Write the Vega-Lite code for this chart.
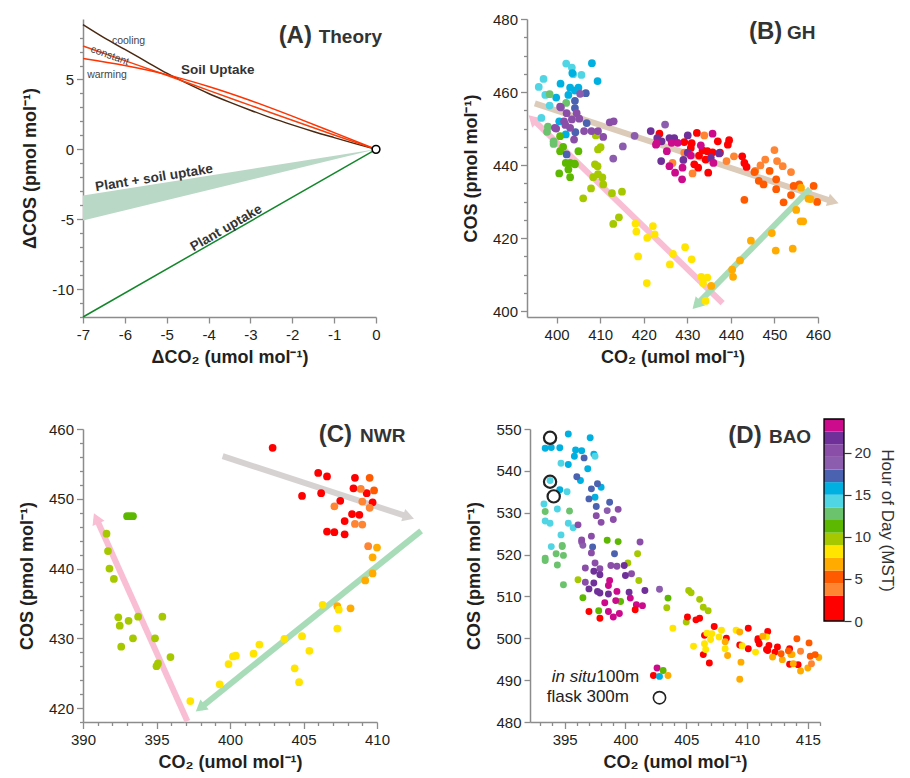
{
"$schema": "https://vega.github.io/schema/vega-lite/v6.json",
"background": "white",
"padding": {"left": 18, "top": 12, "right": 2, "bottom": 0},
"config": {
  "font": "Liberation Sans",
  "view": {"stroke": null},
  "axis": {"grid": false, "domainColor": "#8c8c8c", "domainWidth": 1.5, "tickColor": "#8c8c8c", "tickWidth": 1.3, "labelFont": "Liberation Sans", "labelFontSize": 15, "labelColor": "#231f20", "labelFlush": false, "labelOverlap": false, "labelPadding": 3, "titleFont": "Liberation Sans", "titleFontSize": 18, "titleFontWeight": "bold", "titleColor": "#231f20"},
  "axisX": {"titlePadding": 6, "labelPadding": 4},
  "axisY": {"titlePadding": 12}
},
"datasets": {
  "curves": [
    {"x":-7,"y":8.93,"c":"cooling"},{"x":-6.5,"y":8.0,"c":"cooling"},{"x":-6,"y":7.15,"c":"cooling"},{"x":-5.5,"y":6.3,"c":"cooling"},{"x":-5,"y":5.45,"c":"cooling"},{"x":-4.5,"y":4.7,"c":"cooling"},{"x":-4,"y":4.0,"c":"cooling"},{"x":-3.5,"y":3.38,"c":"cooling"},{"x":-3,"y":2.8,"c":"cooling"},{"x":-2.5,"y":2.25,"c":"cooling"},{"x":-2,"y":1.75,"c":"cooling"},{"x":-1.5,"y":1.28,"c":"cooling"},{"x":-1,"y":0.84,"c":"cooling"},{"x":-0.5,"y":0.41,"c":"cooling"},{"x":0,"y":0,"c":"cooling"},
    {"x":-7,"y":7.4,"c":"constant"},{"x":-6,"y":6.35,"c":"constant"},{"x":-5,"y":5.3,"c":"constant"},{"x":-4,"y":4.22,"c":"constant"},{"x":-3,"y":3.15,"c":"constant"},{"x":-2,"y":2.08,"c":"constant"},{"x":-1,"y":1.03,"c":"constant"},{"x":0,"y":0,"c":"constant"},
    {"x":-7,"y":6.5,"c":"warming"},{"x":-6,"y":6.0,"c":"warming"},{"x":-5,"y":5.35,"c":"warming"},{"x":-4,"y":4.5,"c":"warming"},{"x":-3,"y":3.5,"c":"warming"},{"x":-2,"y":2.38,"c":"warming"},{"x":-1,"y":1.2,"c":"warming"},{"x":0,"y":0,"c":"warming"}
  ],
  "B": [
    {"x":402.2,"y":467.8,"h":14},{"x":403.5,"y":466.7,"h":14},{"x":405.7,"y":464.7,"h":14},{"x":403.8,"y":464.9,"h":14},{"x":397.0,"y":463.6,"h":14},{"x":395.9,"y":461.4,"h":14},{"x":397.4,"y":459.2,"h":14},{"x":398.4,"y":456.3,"h":14},{"x":396.5,"y":452.9,"h":14},
    {"x":408.1,"y":467.9,"h":16},{"x":409.4,"y":463.0,"h":16},{"x":400.9,"y":462.3,"h":16},{"x":403.1,"y":461.2,"h":16},{"x":405.0,"y":461.2,"h":16},{"x":402.7,"y":459.2,"h":16},{"x":399.9,"y":458.5,"h":16},{"x":400.6,"y":452.0,"h":16},{"x":402.1,"y":448.4,"h":16},{"x":404.2,"y":460.4,"h":16},{"x":403.6,"y":465.2,"h":16},
    {"x":398.4,"y":459.4,"h":13},{"x":402.2,"y":457.0,"h":13},{"x":397.8,"y":449.1,"h":13},{"x":399.3,"y":446.5,"h":13},{"x":399.3,"y":445.8,"h":13},{"x":398.0,"y":450.5,"h":13},
    {"x":400.8,"y":447.9,"h":11},{"x":405.0,"y":443.8,"h":11},{"x":400.8,"y":443.8,"h":11},{"x":403.1,"y":440.6,"h":11},{"x":404.2,"y":440.2,"h":11},{"x":402.1,"y":440.6,"h":11},{"x":404.1,"y":440.4,"h":11},{"x":402.7,"y":438.8,"h":11},{"x":400.6,"y":437.7,"h":11},{"x":403.1,"y":436.7,"h":11},{"x":401.5,"y":445.0,"h":11},
    {"x":409.5,"y":444.3,"h":10},{"x":410.1,"y":444.9,"h":10},{"x":408.8,"y":440.2,"h":10},{"x":409.4,"y":439.7,"h":10},{"x":409.5,"y":437.5,"h":10},{"x":408.4,"y":436.7,"h":10},{"x":410.5,"y":436.6,"h":10},{"x":410.7,"y":434.7,"h":10},{"x":407.9,"y":433.6,"h":10},{"x":406.1,"y":430.9,"h":10},{"x":412.7,"y":432.3,"h":10},{"x":415.0,"y":432.7,"h":10},{"x":414.3,"y":425.7,"h":10},{"x":413.0,"y":423.9,"h":10},{"x":409.0,"y":448.1,"h":10},
    {"x":406.7,"y":459.7,"h":17},{"x":404.2,"y":457.6,"h":17},{"x":404.2,"y":455.6,"h":17},{"x":406.9,"y":451.5,"h":17},{"x":402.3,"y":442.9,"h":17},{"x":404.3,"y":449.0,"h":17},
    {"x":405.4,"y":459.5,"h":19},{"x":401.0,"y":455.8,"h":19},{"x":413.0,"y":441.8,"h":19},{"x":415.2,"y":445.1,"h":19},{"x":417.9,"y":448.0,"h":19},{"x":424.9,"y":451.1,"h":19},
    {"x":400.8,"y":456.0,"h":20},{"x":402.3,"y":454.2,"h":20},{"x":404.6,"y":454.2,"h":20},{"x":405.2,"y":452.7,"h":20},{"x":401.7,"y":452.0,"h":20},{"x":403.1,"y":450.2,"h":20},{"x":399.9,"y":450.0,"h":20},{"x":406.3,"y":449.3,"h":20},{"x":408.0,"y":449.3,"h":20},{"x":409.5,"y":449.3,"h":20},{"x":410.7,"y":447.7,"h":20},{"x":412.2,"y":451.7,"h":20},{"x":413.1,"y":452.0,"h":20},{"x":404.0,"y":447.0,"h":20},{"x":399.6,"y":450.2,"h":20},{"x":403.5,"y":452.5,"h":20},{"x":402.0,"y":451.0,"h":20},
    {"x":418.1,"y":424.0,"h":8},{"x":422.1,"y":423.3,"h":8},{"x":418.3,"y":421.8,"h":8},{"x":420.8,"y":420.1,"h":8},{"x":422.5,"y":421.0,"h":8},{"x":418.7,"y":415.0,"h":8},{"x":426.7,"y":415.7,"h":8},{"x":429.5,"y":417.5,"h":8},{"x":431.0,"y":414.2,"h":8},{"x":426.0,"y":412.8,"h":8},{"x":420.7,"y":407.7,"h":8},{"x":433.2,"y":409.4,"h":8},{"x":434.6,"y":409.2,"h":8},{"x":433.6,"y":407.7,"h":8},{"x":434.2,"y":402.8,"h":8},
    {"x":435.5,"y":406.9,"h":7},{"x":455.0,"y":427.7,"h":7},{"x":456.0,"y":424.6,"h":7},{"x":456.6,"y":424.6,"h":7},{"x":449.4,"y":421.4,"h":7},{"x":444.6,"y":419.3,"h":7},{"x":450.3,"y":416.6,"h":7},{"x":454.2,"y":417.1,"h":7},{"x":442.1,"y":413.9,"h":7},{"x":440.3,"y":411.4,"h":7},{"x":440.5,"y":409.4,"h":7},
    {"x":423.6,"y":448.6,"h":1},{"x":432.2,"y":448.8,"h":1},{"x":437.0,"y":446.5,"h":1},{"x":439.6,"y":446.8,"h":1},{"x":439.3,"y":445.6,"h":1},{"x":429.3,"y":446.3,"h":1},{"x":430.8,"y":444.7,"h":1},{"x":434.6,"y":443.8,"h":1},{"x":435.8,"y":443.5,"h":1},{"x":437.5,"y":443.4,"h":1},{"x":432.7,"y":442.6,"h":1},{"x":434.2,"y":441.5,"h":1},{"x":431.6,"y":440.2,"h":1},{"x":432.5,"y":439.3,"h":1},{"x":434.8,"y":437.9,"h":1},{"x":442.6,"y":442.4,"h":1},{"x":443.1,"y":440.6,"h":1},{"x":443.6,"y":439.5,"h":1},{"x":431.0,"y":446.0,"h":1},{"x":433.5,"y":444.0,"h":1},
    {"x":433.9,"y":448.1,"h":4},{"x":429.3,"y":443.4,"h":4},{"x":426.6,"y":440.6,"h":4},{"x":431.2,"y":437.7,"h":4},{"x":439.0,"y":441.1,"h":4},{"x":440.7,"y":442.4,"h":4},{"x":445.6,"y":438.4,"h":4},{"x":446.8,"y":439.9,"h":4},{"x":447.9,"y":441.5,"h":4},{"x":450.0,"y":444.1,"h":4},{"x":450.6,"y":441.1,"h":4},{"x":451.9,"y":439.7,"h":4},{"x":453.8,"y":438.1,"h":4},
    {"x":445.4,"y":438.1,"h":5},{"x":448.9,"y":438.4,"h":5},{"x":446.4,"y":435.7,"h":5},{"x":447.5,"y":434.7,"h":5},{"x":450.4,"y":436.1,"h":5},{"x":450.4,"y":433.4,"h":5},{"x":454.4,"y":434.3,"h":5},{"x":455.7,"y":434.7,"h":5},{"x":453.8,"y":431.8,"h":5},{"x":459.0,"y":434.3,"h":5},{"x":459.8,"y":429.9,"h":5},{"x":443.1,"y":430.5,"h":5},{"x":452.1,"y":429.8,"h":5},
    {"x":456.1,"y":433.8,"h":7},{"x":457.8,"y":430.8,"h":7},{"x":458.3,"y":430.7,"h":7},
    {"x":421.6,"y":449.3,"h":22},{"x":423.1,"y":447.4,"h":22},{"x":424.1,"y":446.5,"h":22},{"x":425.9,"y":447.4,"h":22},{"x":427.0,"y":447.4,"h":22},{"x":430.1,"y":448.1,"h":22},{"x":430.1,"y":443.4,"h":22},{"x":437.3,"y":443.2,"h":22},{"x":435.4,"y":442.0,"h":22},{"x":424.0,"y":441.1,"h":22},{"x":429.1,"y":441.4,"h":22},
    {"x":422.8,"y":445.6,"h":23},{"x":425.3,"y":443.8,"h":23},{"x":426.4,"y":446.1,"h":23},{"x":427.8,"y":446.1,"h":23},{"x":435.8,"y":448.6,"h":23},{"x":433.1,"y":445.4,"h":23},{"x":430.8,"y":442.6,"h":23},{"x":436.0,"y":440.6,"h":23},{"x":425.9,"y":439.7,"h":23},{"x":428.9,"y":439.3,"h":23},{"x":427.2,"y":437.9,"h":23},{"x":428.8,"y":436.1,"h":23},{"x":423.0,"y":446.0,"h":23}
  ],
  "C": [
    {"x":402.9,"y":457.3,"h":1},{"x":406.0,"y":453.7,"h":1},{"x":406.6,"y":453.2,"h":1},{"x":404.9,"y":450.4,"h":1},{"x":406.2,"y":450.8,"h":1},{"x":407.5,"y":449.7,"h":1},{"x":408.5,"y":453.0,"h":1},{"x":408.4,"y":451.5,"h":1},{"x":409.3,"y":450.8,"h":1},{"x":409.7,"y":449.5,"h":1},{"x":408.3,"y":447.8,"h":1},{"x":408.8,"y":447.7,"h":1},{"x":407.8,"y":446.8,"h":1},{"x":406.6,"y":445.3,"h":1},{"x":407.1,"y":445.2,"h":1},{"x":407.8,"y":444.9,"h":1},
    {"x":407.1,"y":448.9,"h":4},{"x":408.9,"y":451.4,"h":4},{"x":409.0,"y":449.6,"h":4},{"x":409.5,"y":448.7,"h":4},{"x":408.5,"y":446.4,"h":4},{"x":409.0,"y":446.3,"h":4},{"x":409.4,"y":443.2,"h":4},
    {"x":409.5,"y":453.0,"h":5},{"x":409.8,"y":451.2,"h":5},
    {"x":410.0,"y":443.0,"h":7},{"x":409.7,"y":441.6,"h":7},{"x":409.7,"y":439.3,"h":7},{"x":409.2,"y":438.3,"h":7},{"x":407.3,"y":434.6,"h":7},{"x":408.2,"y":434.3,"h":7},
    {"x":406.3,"y":434.8,"h":8},{"x":407.4,"y":434.1,"h":8},{"x":407.3,"y":431.4,"h":8},{"x":403.7,"y":429.9,"h":8},{"x":404.9,"y":430.3,"h":8},{"x":405.4,"y":428.2,"h":8},{"x":404.4,"y":425.7,"h":8},{"x":404.7,"y":423.7,"h":8},{"x":402.0,"y":429.1,"h":8},{"x":401.6,"y":427.8,"h":8},{"x":400.2,"y":427.4,"h":8},{"x":400.4,"y":427.5,"h":8},{"x":399.9,"y":426.3,"h":8},{"x":399.3,"y":423.4,"h":8},{"x":397.3,"y":421.0,"h":8},
    {"x":393.0,"y":447.5,"h":11},{"x":393.2,"y":447.5,"h":11},{"x":393.4,"y":447.5,"h":11},
    {"x":391.6,"y":445.0,"h":10},{"x":391.7,"y":442.5,"h":10},{"x":391.8,"y":440.0,"h":10},{"x":392.1,"y":438.5,"h":10},{"x":392.4,"y":433.0,"h":10},{"x":392.5,"y":431.8,"h":10},{"x":393.1,"y":432.5,"h":10},{"x":393.75,"y":433.1,"h":10},{"x":395.4,"y":433.1,"h":10},{"x":393.4,"y":430.0,"h":10},{"x":392.6,"y":428.8,"h":10},{"x":394.9,"y":430.0,"h":10},{"x":395.1,"y":426.4,"h":10},{"x":395.0,"y":426.0,"h":10},{"x":395.95,"y":427.3,"h":10}
  ],
  "D": [
    {"x":395.3,"y":548.8,"h":16},{"x":397.1,"y":547.9,"h":16},{"x":393.4,"y":545.4,"h":16},{"x":393.9,"y":545.6,"h":16},{"x":394.6,"y":545.5,"h":16},{"x":395.9,"y":545.0,"h":16},{"x":396.4,"y":544.8,"h":16},{"x":395.8,"y":543.5,"h":16},{"x":397.4,"y":544.0,"h":16},{"x":395.3,"y":541.5,"h":16},{"x":396.9,"y":540.5,"h":16},{"x":396.3,"y":537.7,"h":16},{"x":394.6,"y":535.5,"h":16},{"x":398.0,"y":536.1,"h":16},{"x":397.5,"y":533.7,"h":16},
    {"x":397.5,"y":543.5,"h":14},{"x":394.7,"y":541.8,"h":14},{"x":393.8,"y":537.7,"h":14},{"x":395.2,"y":535.0,"h":14},{"x":393.3,"y":532.1,"h":14},{"x":394.4,"y":530.9,"h":14},{"x":393.4,"y":528.0,"h":14},{"x":393.8,"y":527.5,"h":14},{"x":395.3,"y":527.5,"h":14},{"x":395.7,"y":526.4,"h":14},{"x":394.7,"y":524.7,"h":14},{"x":393.9,"y":521.9,"h":14},
    {"x":396.6,"y":543.1,"h":17},{"x":396.0,"y":538.6,"h":17},{"x":397.7,"y":536.9,"h":17},{"x":397.2,"y":535.7,"h":17},{"x":397.0,"y":533.3,"h":17},{"x":398.7,"y":532.5,"h":17},{"x":397.6,"y":531.5,"h":17},{"x":397.3,"y":521.8,"h":17},{"x":399.1,"y":520.2,"h":17},
    {"x":393.4,"y":530.3,"h":13},{"x":395.4,"y":530.4,"h":13},{"x":394.8,"y":521.9,"h":13},{"x":393.4,"y":519.1,"h":13},{"x":394.3,"y":520.2,"h":13},{"x":393.4,"y":518.6,"h":13},{"x":394.4,"y":517.5,"h":13},{"x":394.9,"y":519.8,"h":13},{"x":394.9,"y":512.8,"h":13},{"x":394.8,"y":522.2,"h":13},
    {"x":398.5,"y":523.4,"h":11},{"x":399.4,"y":523.1,"h":11},{"x":396.5,"y":509.7,"h":11},{"x":399.6,"y":508.8,"h":11},{"x":397.8,"y":506.6,"h":11},{"x":403.5,"y":509.6,"h":11},
    {"x":401.0,"y":520.2,"h":10},{"x":400.2,"y":518.0,"h":10},{"x":396.1,"y":514.0,"h":10},{"x":401.1,"y":513.8,"h":10},{"x":403.4,"y":507.3,"h":10},{"x":405.2,"y":511.4,"h":10},{"x":405.4,"y":510.9,"h":10},{"x":406.1,"y":509.3,"h":10},{"x":406.4,"y":507.4,"h":10},{"x":406.8,"y":506.6,"h":10},{"x":405.0,"y":503.9,"h":10},
    {"x":398.5,"y":530.5,"h":19},{"x":396.5,"y":522.2,"h":19},{"x":396.4,"y":523.0,"h":19},{"x":402.8,"y":511.7,"h":19},
    {"x":399.4,"y":530.8,"h":20},{"x":397.6,"y":529.3,"h":20},{"x":398.0,"y":527.7,"h":20},{"x":399.0,"y":528.4,"h":20},{"x":396.1,"y":527.1,"h":20},{"x":401.2,"y":523.0,"h":20},{"x":396.4,"y":523.5,"h":20},{"x":397.2,"y":524.4,"h":20},{"x":397.2,"y":520.4,"h":20},{"x":396.7,"y":516.8,"h":20},{"x":397.5,"y":518.0,"h":20},{"x":397.9,"y":516.6,"h":20},{"x":398.8,"y":517.4,"h":20},{"x":399.3,"y":517.2,"h":20},{"x":400.5,"y":515.4,"h":20},{"x":396.7,"y":513.4,"h":20},
    {"x":397.4,"y":516.0,"h":22},{"x":397.9,"y":515.2,"h":22},{"x":399.9,"y":517.4,"h":22},{"x":400.0,"y":515.0,"h":22},{"x":397.4,"y":513.2,"h":22},{"x":397.0,"y":511.8,"h":22},{"x":397.7,"y":511.2,"h":22},{"x":397.9,"y":510.8,"h":22},{"x":398.6,"y":510.6,"h":22},{"x":400.3,"y":511.0,"h":22},{"x":401.6,"y":511.4,"h":22},
    {"x":398.7,"y":513.8,"h":23},{"x":398.6,"y":512.6,"h":23},{"x":399.3,"y":511.2,"h":23},{"x":399.2,"y":509.0,"h":23},{"x":398.3,"y":508.5,"h":23},{"x":400.4,"y":509.6,"h":23},{"x":400.9,"y":508.0,"h":23},{"x":401.4,"y":507.8,"h":23},{"x":398.6,"y":506.4,"h":23},{"x":399.0,"y":505.1,"h":23},{"x":399.5,"y":505.9,"h":23},
    {"x":397.0,"y":506.4,"h":1},{"x":397.9,"y":504.8,"h":1},{"x":400.8,"y":506.8,"h":1},{"x":405.1,"y":505.1,"h":1},{"x":405.8,"y":504.4,"h":1},{"x":406.1,"y":504.8,"h":1},{"x":407.3,"y":502.8,"h":1},{"x":406.5,"y":500.7,"h":1},{"x":408.3,"y":500.0,"h":1},{"x":406.4,"y":496.1,"h":1},{"x":406.9,"y":494.1,"h":1},{"x":410.1,"y":502.4,"h":1},{"x":410.1,"y":497.5,"h":1},{"x":410.9,"y":499.5,"h":1},{"x":411.7,"y":501.6,"h":1},{"x":411.8,"y":498.3,"h":1},{"x":411.7,"y":497.1,"h":1},{"x":412.5,"y":497.9,"h":1},{"x":413.5,"y":497.5,"h":1},{"x":410.9,"y":499.9,"h":1},{"x":411.0,"y":498.7,"h":1},{"x":412.3,"y":496.7,"h":1},{"x":409.4,"y":498.4,"h":1},{"x":413.5,"y":493.8,"h":1},{"x":414.2,"y":493.7,"h":1},{"x":411.6,"y":497.3,"h":1},
    {"x":403.9,"y":502.4,"h":8},{"x":406.7,"y":501.2,"h":8},{"x":407.1,"y":501.1,"h":8},{"x":407.9,"y":501.9,"h":8},{"x":407.7,"y":500.3,"h":8},{"x":407.0,"y":499.7,"h":8},{"x":406.5,"y":498.7,"h":8},{"x":406.6,"y":497.3,"h":8},{"x":405.6,"y":498.1,"h":8},{"x":409.1,"y":501.9,"h":8},{"x":409.6,"y":498.2,"h":8},{"x":410.7,"y":496.7,"h":8},{"x":411.6,"y":500.3,"h":8},{"x":408.2,"y":497.5,"h":8},
    {"x":408.2,"y":499.2,"h":7},{"x":408.4,"y":495.9,"h":7},{"x":409.4,"y":501.5,"h":7},{"x":411.3,"y":500.5,"h":7},{"x":413.7,"y":496.1,"h":7},{"x":412.1,"y":495.5,"h":7},{"x":413.6,"y":496.1,"h":7},{"x":412.9,"y":494.9,"h":7},{"x":415.9,"y":495.4,"h":7},{"x":413.8,"y":493.9,"h":7},{"x":414.4,"y":492.2,"h":7},{"x":415.0,"y":492.9,"h":7},{"x":409.5,"y":494.3,"h":7},{"x":409.4,"y":490.2,"h":7},
    {"x":414.1,"y":499.9,"h":5},{"x":415.1,"y":498.9,"h":5},{"x":412.8,"y":496.3,"h":5},{"x":413.4,"y":497.0,"h":5},{"x":415.2,"y":495.7,"h":5},{"x":415.6,"y":496.1,"h":5},
    {"x":414.4,"y":496.9,"h":4},{"x":415.3,"y":493.9,"h":4}
  ],
  "Dkey": [
    {"x":402.6,"y":492.9,"h":23},{"x":403.1,"y":492.3,"h":11},{"x":402.3,"y":491.1,"h":1},{"x":403.5,"y":491.1,"h":7},{"x":402.8,"y":490.9,"h":16}
  ],
  "flask": [
    {"x":393.8,"y":547.9},{"x":393.8,"y":537.4},{"x":394.1,"y":533.9}
  ],
  "bins": [
    {"h0":0,"h1":3,"h":1.5},{"h0":3,"h1":4.5,"h":3.75},{"h0":4.5,"h1":6,"h":5.25},{"h0":6,"h1":7.5,"h":6.75},{"h0":7.5,"h1":9,"h":8.25},{"h0":9,"h1":10.5,"h":9.75},{"h0":10.5,"h1":12,"h":11.25},{"h0":12,"h1":13.5,"h":12.75},{"h0":13.5,"h1":15,"h":14.25},{"h0":15,"h1":16.5,"h":15.75},{"h0":16.5,"h1":18,"h":17.25},{"h0":18,"h1":19.5,"h":18.75},{"h0":19.5,"h1":21,"h":20.25},{"h0":21,"h1":22.5,"h":21.75},{"h0":22.5,"h1":24,"h":23.25}
  ]
},
"spacing": 52,
"vconcat": [
 {"spacing": 78, "hconcat": [
  {
   "width": 293, "height": 298,
   "encoding": {
     "x": {"field": "x", "type": "quantitative", "scale": {"domain": [-7, 0], "nice": false, "zero": false}, "axis": {"title": "ΔCO₂ (umol mol⁻¹)", "values": [-7,-6,-5,-4,-3,-2,-1,0], "labelExpr": "toString(datum.value)", "tickSize": 6}},
     "y": {"field": "y", "type": "quantitative", "scale": {"domain": [-12, 9.33], "nice": false, "zero": false}, "axis": {"title": "ΔCOS (pmol mol⁻¹)", "values": [-12,-11,-10,-9,-8,-7,-6,-5,-4,-3,-2,-1,0,1,2,3,4,5,6,7,8], "labelExpr": "datum.value % 5 === 0 ? toString(datum.value) : ''", "tickSize": {"condition": {"test": "datum.value % 5 !== 0", "value": 3.5}, "value": 6.5}}}
   },
   "layer": [
     {"data": {"values": [{"x": -7, "y": -5.1, "y2": -3.3}, {"x": 0, "y": 0, "y2": 0}]}, "mark": {"type": "area", "color": "#b9d8c6", "opacity": 1}, "encoding": {"y2": {"field": "y2"}}},
     {"data": {"values": [{"x": -7, "y": -12}, {"x": 0, "y": 0}]}, "mark": {"type": "line", "color": "#12872a", "strokeWidth": 1.5}},
     {"data": {"name": "curves"}, "transform": [{"filter": "datum.c === 'cooling'"}], "mark": {"type": "line", "color": "#4a2810", "strokeWidth": 1.5, "interpolate": "monotone"}},
     {"data": {"name": "curves"}, "transform": [{"filter": "datum.c === 'constant'"}], "mark": {"type": "line", "color": "#f2410f", "strokeWidth": 1.5, "interpolate": "monotone"}},
     {"data": {"name": "curves"}, "transform": [{"filter": "datum.c === 'warming'"}], "mark": {"type": "line", "color": "#ff3300", "strokeWidth": 1.5, "interpolate": "monotone"}},
     {"data": {"values": [{"x": 0, "y": 0}]}, "mark": {"type": "point", "shape": "circle", "filled": true, "fill": "white", "stroke": "black", "strokeWidth": 1.6, "size": 60, "opacity": 1}},
     {"data": {"values": [{"x": -6.31, "y": 7.75, "t": "cooling"}]}, "mark": {"type": "text", "align": "left", "baseline": "middle", "fontSize": 10.5, "color": "#444"}, "encoding": {"text": {"field": "t"}}},
     {"data": {"values": [{"x": -6.36, "y": 6.7, "t": "constant"}]}, "mark": {"type": "text", "align": "center", "baseline": "middle", "fontSize": 10.5, "color": "#444", "angle": 20}, "encoding": {"text": {"field": "t"}}},
     {"data": {"values": [{"x": -6.9, "y": 5.32, "t": "warming"}]}, "mark": {"type": "text", "align": "left", "baseline": "middle", "fontSize": 10.5, "color": "#444"}, "encoding": {"text": {"field": "t"}}},
     {"data": {"values": [{"x": -4.66, "y": 5.68, "t": "Soil Uptake"}]}, "mark": {"type": "text", "align": "left", "baseline": "middle", "fontSize": 13.5, "fontWeight": "bold", "color": "#333"}, "encoding": {"text": {"field": "t"}}},
     {"data": {"values": [{"x": -5.3, "y": -2.05, "t": "Plant + soil uptake"}]}, "mark": {"type": "text", "align": "center", "baseline": "middle", "fontSize": 13.5, "fontWeight": "bold", "color": "#333", "angle": -9}, "encoding": {"text": {"field": "t"}}},
     {"data": {"values": [{"x": -3.58, "y": -5.63, "t": "Plant uptake"}]}, "mark": {"type": "text", "align": "center", "baseline": "middle", "fontSize": 13.5, "fontWeight": "bold", "color": "#333", "angle": -30}, "encoding": {"text": {"field": "t"}}},
     {"data": {"values": [{"x": -1.53, "y": 7.61, "t": "(A)"}]}, "mark": {"type": "text", "align": "right", "baseline": "alphabetic", "fontSize": 24, "fontWeight": "bold", "color": "#333"}, "encoding": {"text": {"field": "t"}}},
     {"data": {"values": [{"x": -1.37, "y": 7.61, "t": "Theory"}]}, "mark": {"type": "text", "align": "left", "baseline": "alphabetic", "fontSize": 19, "fontWeight": "bold", "color": "#333"}, "encoding": {"text": {"field": "t"}}}
   ]
  },
  {
   "width": 291, "height": 298,
   "encoding": {
     "x": {"field": "x", "type": "quantitative", "scale": {"domain": [393.2, 460], "nice": false, "zero": false}, "axis": {"title": "CO₂ (umol mol⁻¹)", "values": [400,410,420,430,440,450,460], "tickSize": 6}},
     "y": {"field": "y", "type": "quantitative", "scale": {"domain": [398.4, 480], "nice": false, "zero": false}, "axis": {"title": "COS (pmol mol⁻¹)", "values": [400,405,410,415,420,425,430,435,440,445,450,455,460,465,470,475,480], "labelExpr": "datum.value % 20 === 0 ? datum.label : ''", "tickSize": {"condition": {"test": "datum.value % 20 !== 0", "value": 3.5}, "value": 6.5}}}
   },
   "layer": [
     {"data": {"values": [{"x": 395.0, "y": 456.9, "x2": 463.5, "y2": 430.0}]}, "mark": {"type": "rule", "color": "#dccbb9", "strokeWidth": 6}, "encoding": {"x2": {"field": "x2"}, "y2": {"field": "y2"}}},
     {"data": {"values": [{"x": 463.5, "y": 430.0}]}, "mark": {"type": "point", "shape": "triangle-up", "filled": true, "color": "#dccbb9", "size": 170, "angle": 108, "opacity": 1}},
     {"data": {"values": [{"x": 438.1, "y": 402.2, "x2": 394.5, "y2": 452.6}]}, "mark": {"type": "rule", "color": "#f9bdd4", "strokeWidth": 6}, "encoding": {"x2": {"field": "x2"}, "y2": {"field": "y2"}}},
     {"data": {"values": [{"x": 394.5, "y": 452.6}]}, "mark": {"type": "point", "shape": "triangle-up", "filled": true, "color": "#f9bdd4", "size": 170, "angle": -46, "opacity": 1}},
     {"data": {"values": [{"x": 458.2, "y": 433.5, "x2": 432.1, "y2": 401.7}]}, "mark": {"type": "rule", "color": "#a8dcb8", "strokeWidth": 6}, "encoding": {"x2": {"field": "x2"}, "y2": {"field": "y2"}}},
     {"data": {"values": [{"x": 432.1, "y": 401.7}]}, "mark": {"type": "point", "shape": "triangle-up", "filled": true, "color": "#a8dcb8", "size": 170, "angle": -136, "opacity": 1}},
     {"data": {"name": "B"}, "mark": {"type": "circle", "size": 60, "opacity": 1}, "encoding": {"color": {"field": "h", "type": "quantitative", "scale": {"type": "threshold", "domain": [3,4.5,6,7.5,9,10.5,12,13.5,15,16.5,18,19.5,21,22.5], "range": ["#ff0000","#ff8533","#ff5a00","#ffab00","#ffe500","#a5c800","#5cb800","#6cc36e","#50d5e5","#00b0e0","#4b62b0","#8c5cae","#8a4ea8","#70309a","#cc0a8c"]}, "legend": null}}},
     {"data": {"values": [{"x": 451.8, "y": 474.6, "t": "(B)"}]}, "mark": {"type": "text", "align": "right", "baseline": "alphabetic", "fontSize": 24, "fontWeight": "bold", "color": "#333"}, "encoding": {"text": {"field": "t"}}},
     {"data": {"values": [{"x": 452.9, "y": 474.6, "t": "GH"}]}, "mark": {"type": "text", "align": "left", "baseline": "alphabetic", "fontSize": 19, "fontWeight": "bold", "color": "#333"}, "encoding": {"text": {"field": "t"}}}
   ]
  }
 ]},
 {"spacing": 40, "hconcat": [
  {
   "width": 294, "height": 293,
   "encoding": {
     "x": {"field": "x", "type": "quantitative", "scale": {"domain": [390, 410], "nice": false, "zero": false}, "axis": {"title": "CO₂ (umol mol⁻¹)", "values": [390,391,392,393,394,395,396,397,398,399,400,401,402,403,404,405,406,407,408,409,410], "labelExpr": "datum.value % 5 === 0 ? datum.label : ''", "tickSize": {"condition": {"test": "datum.value % 5 !== 0", "value": 3.5}, "value": 6.5}}},
     "y": {"field": "y", "type": "quantitative", "scale": {"domain": [418, 460], "nice": false, "zero": false}, "axis": {"title": "COS (pmol mol⁻¹)", "values": [418,420,422,424,426,428,430,432,434,436,438,440,442,444,446,448,450,452,454,456,458,460], "labelExpr": "datum.value % 10 === 0 ? datum.label : ''", "tickSize": {"condition": {"test": "datum.value % 10 !== 0", "value": 3.5}, "value": 6.5}}}
   },
   "layer": [
     {"data": {"values": [{"x": 399.5, "y": 456.1, "x2": 412.15, "y2": 447.4}]}, "mark": {"type": "rule", "color": "#d6d2d2", "strokeWidth": 6}, "encoding": {"x2": {"field": "x2"}, "y2": {"field": "y2"}}},
     {"data": {"values": [{"x": 412.15, "y": 447.4}]}, "mark": {"type": "point", "shape": "triangle-up", "filled": true, "color": "#d6d2d2", "size": 170, "angle": 108, "opacity": 1}},
     {"data": {"values": [{"x": 397.1, "y": 418.1, "x2": 390.9, "y2": 447.2}]}, "mark": {"type": "rule", "color": "#f9bdd4", "strokeWidth": 6}, "encoding": {"x2": {"field": "x2"}, "y2": {"field": "y2"}}},
     {"data": {"values": [{"x": 390.9, "y": 447.2}]}, "mark": {"type": "point", "shape": "triangle-up", "filled": true, "color": "#f9bdd4", "size": 170, "angle": -24, "opacity": 1}},
     {"data": {"values": [{"x": 413.0, "y": 445.4, "x2": 397.97, "y2": 420.0}]}, "mark": {"type": "rule", "color": "#a8dcb8", "strokeWidth": 6}, "encoding": {"x2": {"field": "x2"}, "y2": {"field": "y2"}}},
     {"data": {"values": [{"x": 397.97, "y": 420.0}]}, "mark": {"type": "point", "shape": "triangle-up", "filled": true, "color": "#a8dcb8", "size": 170, "angle": -129, "opacity": 1}},
     {"data": {"name": "C"}, "mark": {"type": "circle", "size": 60, "opacity": 1}, "encoding": {"color": {"field": "h", "type": "quantitative", "scale": {"type": "threshold", "domain": [3,4.5,6,7.5,9,10.5,12,13.5,15,16.5,18,19.5,21,22.5], "range": ["#ff0000","#ff8533","#ff5a00","#ffab00","#ffe500","#a5c800","#5cb800","#6cc36e","#50d5e5","#00b0e0","#4b62b0","#8c5cae","#8a4ea8","#70309a","#cc0a8c"]}, "legend": null}}},
     {"data": {"values": [{"x": 408.3, "y": 458.1, "t": "(C)"}]}, "mark": {"type": "text", "align": "right", "baseline": "alphabetic", "fontSize": 24, "fontWeight": "bold", "color": "#333"}, "encoding": {"text": {"field": "t"}}},
     {"data": {"values": [{"x": 408.85, "y": 458.1, "t": "NWR"}]}, "mark": {"type": "text", "align": "left", "baseline": "alphabetic", "fontSize": 19, "fontWeight": "bold", "color": "#333"}, "encoding": {"text": {"field": "t"}}}
   ]
  },
  {"spacing": 0, "hconcat": [
   {
    "width": 290, "height": 293,
    "encoding": {
      "x": {"field": "x", "type": "quantitative", "scale": {"domain": [392.15, 416], "nice": false, "zero": false}, "axis": {"title": "CO₂ (umol mol⁻¹)", "values": [393,394,395,396,397,398,399,400,401,402,403,404,405,406,407,408,409,410,411,412,413,414,415,416], "labelExpr": "datum.value % 5 === 0 ? datum.label : ''", "tickSize": {"condition": {"test": "datum.value % 5 !== 0", "value": 3.5}, "value": 6.5}}},
      "y": {"field": "y", "type": "quantitative", "scale": {"domain": [480, 550], "nice": false, "zero": false}, "axis": {"title": "COS (pmol mol⁻¹)", "values": [480,490,500,510,520,530,540,550], "tickSize": 6}}
    },
    "layer": [
      {"data": {"name": "D"}, "mark": {"type": "circle", "size": 48, "opacity": 1}, "encoding": {"color": {"field": "h", "type": "quantitative", "scale": {"type": "threshold", "domain": [3,4.5,6,7.5,9,10.5,12,13.5,15,16.5,18,19.5,21,22.5], "range": ["#ff0000","#ff8533","#ff5a00","#ffab00","#ffe500","#a5c800","#5cb800","#6cc36e","#50d5e5","#00b0e0","#4b62b0","#8c5cae","#8a4ea8","#70309a","#cc0a8c"]}, "legend": null}}},
      {"data": {"name": "flask"}, "mark": {"type": "point", "shape": "circle", "filled": false, "stroke": "#222", "strokeWidth": 2.2, "size": 150, "opacity": 1}},
      {"data": {"name": "Dkey"}, "mark": {"type": "circle", "size": 48, "opacity": 1}, "encoding": {"color": {"field": "h", "type": "quantitative", "scale": {"type": "threshold", "domain": [3,4.5,6,7.5,9,10.5,12,13.5,15,16.5,18,19.5,21,22.5], "range": ["#ff0000","#ff8533","#ff5a00","#ffab00","#ffe500","#a5c800","#5cb800","#6cc36e","#50d5e5","#00b0e0","#4b62b0","#8c5cae","#8a4ea8","#70309a","#cc0a8c"]}, "legend": null}}},
      {"data": {"values": [{"x": 402.8, "y": 485.8}]}, "mark": {"type": "point", "shape": "circle", "filled": false, "stroke": "#222", "strokeWidth": 1.6, "size": 150, "opacity": 1}},
      {"data": {"values": [{"x": 397.6, "y": 490.8, "t": "in situ"}]}, "mark": {"type": "text", "align": "right", "baseline": "middle", "fontSize": 17, "fontStyle": "italic", "color": "#222"}, "encoding": {"text": {"field": "t"}}},
      {"data": {"values": [{"x": 397.62, "y": 490.8, "t": "100m"}]}, "mark": {"type": "text", "align": "left", "baseline": "middle", "fontSize": 17, "color": "#222"}, "encoding": {"text": {"field": "t"}}},
      {"data": {"values": [{"x": 393.53, "y": 486.0, "t": "flask 300m"}]}, "mark": {"type": "text", "align": "left", "baseline": "middle", "fontSize": 17, "color": "#222"}, "encoding": {"text": {"field": "t"}}},
      {"data": {"values": [{"x": 411.2, "y": 546.7, "t": "(D)"}]}, "mark": {"type": "text", "align": "right", "baseline": "alphabetic", "fontSize": 24, "fontWeight": "bold", "color": "#333"}, "encoding": {"text": {"field": "t"}}},
      {"data": {"values": [{"x": 411.8, "y": 546.7, "t": "BAO"}]}, "mark": {"type": "text", "align": "left", "baseline": "alphabetic", "fontSize": 19, "fontWeight": "bold", "color": "#333"}, "encoding": {"text": {"field": "t"}}}
    ]
   },
   {
    "width": 20, "height": 202,
    "encoding": {
      "y": {"field": "h0", "type": "quantitative", "scale": {"domain": [0, 24], "nice": false, "zero": false, "range": [192, -10]}, "axis": {"orient": "right", "values": [0,5,10,15,20], "domain": false, "tickColor": "#333", "tickSize": 7, "tickWidth": 1.2, "labelPadding": 3, "labelColor": "#333", "title": "Hour of Day (MST)", "titleFontWeight": "normal", "titleFontSize": 17, "titleColor": "#333", "titlePadding": 7}},
      "y2": {"field": "h1"}
    },
    "layer": [
      {"data": {"name": "bins"}, "mark": {"type": "rect"}, "encoding": {"color": {"field": "h", "type": "quantitative", "scale": {"type": "threshold", "domain": [3,4.5,6,7.5,9,10.5,12,13.5,15,16.5,18,19.5,21,22.5], "range": ["#ff0000","#ff8533","#ff5a00","#ffab00","#ffe500","#a5c800","#5cb800","#6cc36e","#50d5e5","#00b0e0","#4b62b0","#8c5cae","#8a4ea8","#70309a","#cc0a8c"]}, "legend": null}}},
      {"data": {"values": [{"h0": 0, "h1": 24}]}, "mark": {"type": "rect", "filled": false, "stroke": "#000", "strokeWidth": 1.3}}
    ]
   }
  ]}
 ]}
]
}
